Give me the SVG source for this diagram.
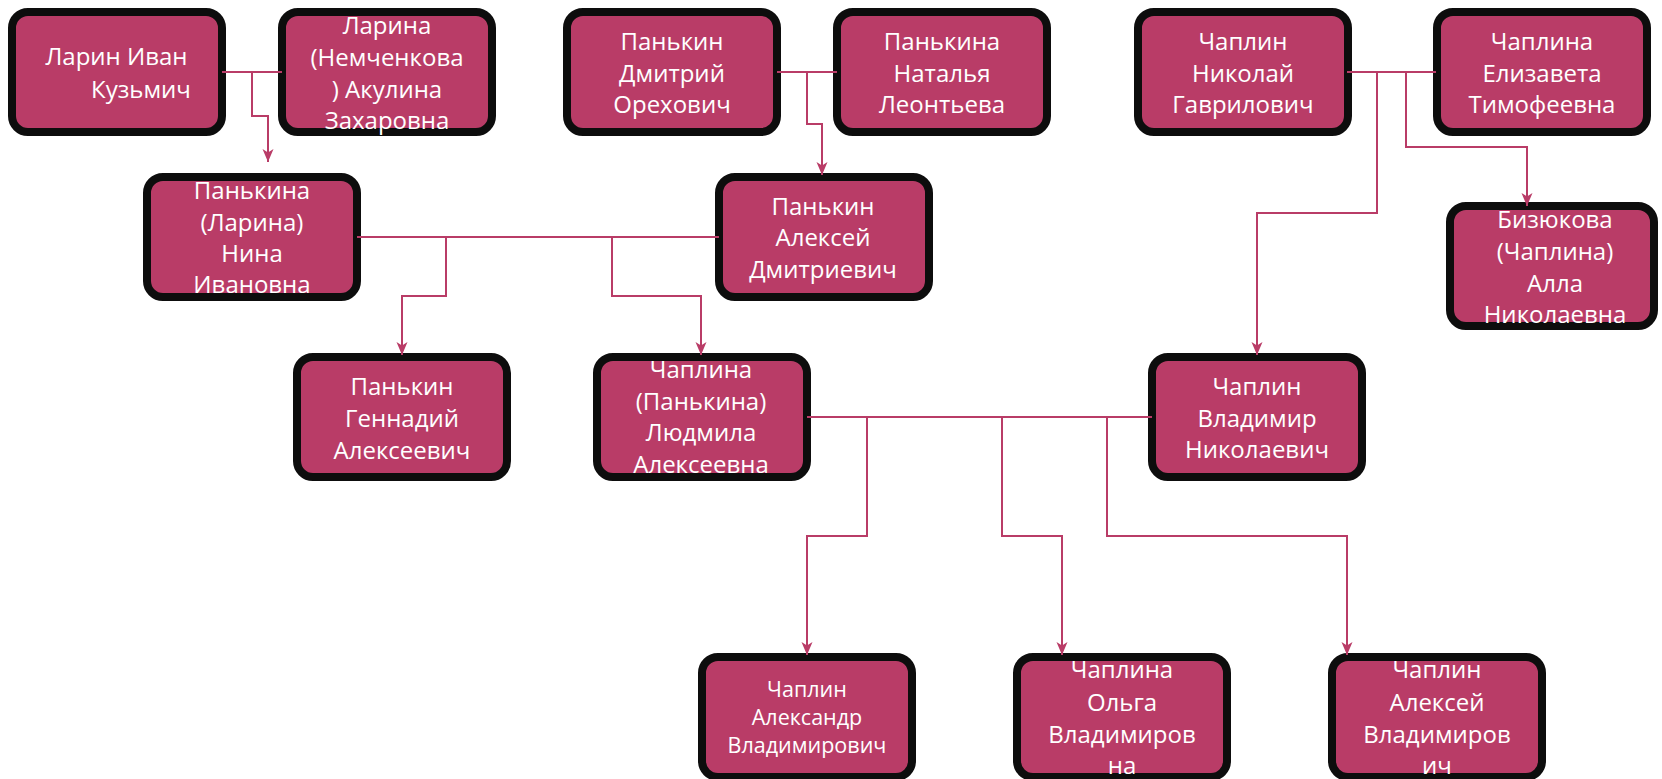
<svg xmlns="http://www.w3.org/2000/svg" width="1662" height="779" viewBox="0 0 1662 779">
<style>
.box{fill:#B93C67;stroke:#0D0D0D;stroke-width:8}
.t{font-family:"Open Sans","Noto Sans",sans-serif;font-size:24px;fill:#FFFFFF;text-anchor:middle}
.s{font-size:21.5px}
.c{fill:none;stroke:#B93C67;stroke-width:2}
.a{marker-end:url(#arr)}
</style>
<defs>
<marker id="arr" markerUnits="userSpaceOnUse" markerWidth="16" markerHeight="14" refX="14" refY="7" orient="auto">
<path d="M14,7 L1,1.5 L4.5,7 L1,12.5 Z" fill="#B93C67"/>
</marker>
</defs>
<rect width="1662" height="779" fill="#FFFFFF"/>

<g id="larin-ivan"><rect class="box" x="12" y="12" width="210" height="120" rx="16"/>
<text class="t"><tspan x="116.5" y="65">Ларин Иван</tspan><tspan x="141" y="98">Кузьмич</tspan></text></g>

<g id="larina-akulina"><rect class="box" x="282" y="12" width="210" height="120" rx="16"/>
<text class="t"><tspan x="387" y="34">Ларина</tspan><tspan x="387" y="66">(Немченкова</tspan><tspan x="387" y="98">) Акулина</tspan><tspan x="387" y="129">Захаровна</tspan></text></g>

<g id="pankin-dmitry"><rect class="box" x="567" y="12" width="210" height="120" rx="16"/>
<text class="t"><tspan x="672" y="50">Панькин</tspan><tspan x="672" y="82">Дмитрий</tspan><tspan x="672" y="113">Орехович</tspan></text></g>

<g id="pankina-natalia"><rect class="box" x="837" y="12" width="210" height="120" rx="16"/>
<text class="t"><tspan x="942" y="50">Панькина</tspan><tspan x="942" y="82">Наталья</tspan><tspan x="942" y="113">Леонтьева</tspan></text></g>

<g id="chaplin-nikolai"><rect class="box" x="1138" y="12" width="210" height="120" rx="16"/>
<text class="t"><tspan x="1243" y="50">Чаплин</tspan><tspan x="1243" y="82">Николай</tspan><tspan x="1243" y="113">Гаврилович</tspan></text></g>

<g id="chaplina-elizaveta"><rect class="box" x="1437" y="12" width="210" height="120" rx="16"/>
<text class="t"><tspan x="1542" y="50">Чаплина</tspan><tspan x="1542" y="82">Елизавета</tspan><tspan x="1542" y="113">Тимофеевна</tspan></text></g>

<g id="pankina-nina"><rect class="box" x="147" y="177" width="210" height="120" rx="16"/>
<text class="t"><tspan x="252" y="199">Панькина</tspan><tspan x="252" y="231">(Ларина)</tspan><tspan x="252" y="262">Нина</tspan><tspan x="252" y="293">Ивановна</tspan></text></g>

<g id="pankin-aleksei"><rect class="box" x="719" y="177" width="210" height="120" rx="16"/>
<text class="t"><tspan x="823" y="215">Панькин</tspan><tspan x="823" y="246">Алексей</tspan><tspan x="823" y="278">Дмитриевич</tspan></text></g>

<g id="bizyukova-alla"><rect class="box" x="1450" y="206" width="204" height="120" rx="16"/>
<text class="t"><tspan x="1555" y="228">Бизюкова</tspan><tspan x="1555" y="260">(Чаплина)</tspan><tspan x="1555" y="292">Алла</tspan><tspan x="1555" y="323">Николаевна</tspan></text></g>

<g id="pankin-gennady"><rect class="box" x="297" y="357" width="210" height="120" rx="16"/>
<text class="t"><tspan x="402" y="395">Панькин</tspan><tspan x="402" y="427">Геннадий</tspan><tspan x="402" y="459">Алексеевич</tspan></text></g>

<g id="chaplina-lyudmila"><rect class="box" x="597" y="357" width="210" height="120" rx="16"/>
<text class="t"><tspan x="701" y="378">Чаплина</tspan><tspan x="701" y="410">(Панькина)</tspan><tspan x="701" y="441">Людмила</tspan><tspan x="701" y="473">Алексеевна</tspan></text></g>

<g id="chaplin-vladimir"><rect class="box" x="1152" y="357" width="210" height="120" rx="16"/>
<text class="t"><tspan x="1257" y="395">Чаплин</tspan><tspan x="1257" y="427">Владимир</tspan><tspan x="1257" y="458">Николаевич</tspan></text></g>

<g id="chaplin-aleksandr"><rect class="box" x="702" y="657" width="210" height="120" rx="16"/>
<text class="t s"><tspan x="807" y="697">Чаплин</tspan><tspan x="807" y="725">Александр</tspan><tspan x="807" y="753">Владимирович</tspan></text></g>

<g id="chaplina-olga"><rect class="box" x="1017" y="657" width="210" height="120" rx="16"/>
<text class="t"><tspan x="1122" y="678">Чаплина</tspan><tspan x="1122" y="711">Ольга</tspan><tspan x="1122" y="743">Владимиров</tspan><tspan x="1122" y="774">на</tspan></text></g>

<g id="chaplin-aleksei-v"><rect class="box" x="1332" y="657" width="210" height="120" rx="16"/>
<text class="t"><tspan x="1437" y="678">Чаплин</tspan><tspan x="1437" y="711">Алексей</tspan><tspan x="1437" y="743">Владимиров</tspan><tspan x="1437" y="774">ич</tspan></text></g>

<g id="connectors">
<path class="c" d="M222,72 H282"/>
<path class="c a" d="M252,72 V116 H268 V162"/>
<path class="c" d="M777,72 H837"/>
<path class="c a" d="M807,72 V124 H822 V175"/>
<path class="c" d="M1347,72 H1436"/>
<path class="c a" d="M1377,72 V213 H1257 V355"/>
<path class="c a" d="M1406,72 V147 H1527 V206"/>
<path class="c" d="M357,237 H719"/>
<path class="c a" d="M446,237 V296 H402 V355"/>
<path class="c a" d="M612,237 V296 H701 V355"/>
<path class="c" d="M807,417 H1152"/>
<path class="c a" d="M867,417 V536 H807 V655"/>
<path class="c a" d="M1002,417 V536 H1062 V655"/>
<path class="c a" d="M1107,417 V536 H1347 V655"/>
</g>
</svg>
